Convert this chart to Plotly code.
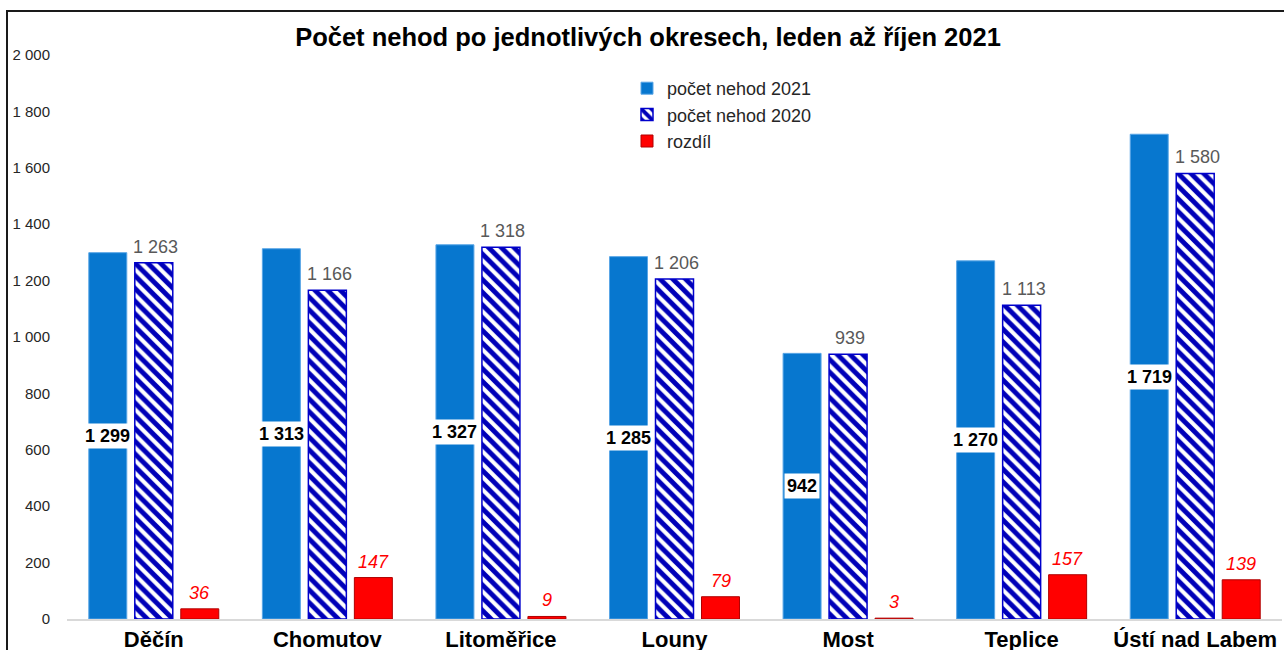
import plotly.graph_objects as go

categories = ["Děčín", "Chomutov", "Litoměřice", "Louny", "Most", "Teplice", "Ústí nad Labem"]
nehody_2021 = [1299, 1313, 1327, 1285, 942, 1270, 1719]
nehody_2020 = [1263, 1166, 1318, 1206, 939, 1113, 1580]
rozdil = [36, 147, 9, 79, 3, 157, 139]
y_ticks = [0, 200, 400, 600, 800, 1000, 1200, 1400, 1600, 1800, 2000]


def fmt(v):
    return f"{v:,}".replace(",", " ")


FONT = "Liberation Sans, Arial, sans-serif"
W, H = 1284, 650
ML, MR, MT, MB = 67, 2, 55, 31
PW = W - ML - MR
PH = H - MT - MB

fig = go.Figure()
fig.add_trace(go.Bar(
    name="počet nehod 2021", x=categories, y=nehody_2021,
    marker=dict(color="#0777CF", line=dict(color="#5AA6E6", width=1)),
))
fig.add_trace(go.Bar(
    name="počet nehod 2020", x=categories, y=nehody_2020,
    marker=dict(color="white", line=dict(color="#0000CC", width=1.5),
                pattern=dict(shape="\\", fgcolor="#0000B8", fgopacity=1, bgcolor="white",
                             size=9, solidity=0.55)),
))
fig.add_trace(go.Bar(
    name="rozdíl", x=categories, y=rozdil,
    marker=dict(color="#FF0000", line=dict(color="#B00000", width=1)),
))

annotations = []
for c, v in zip(categories, nehody_2021):
    annotations.append(dict(
        x=c, y=v / 2, xref="x", yref="y", text=f"<b>{fmt(v)}</b>", showarrow=False,
        xshift=-46, yanchor="middle", bgcolor="white", borderpad=2,
        font=dict(family=FONT, size=18, color="black"),
    ))
for c, v in zip(categories, nehody_2020):
    annotations.append(dict(
        x=c, y=v, xref="x", yref="y", text=fmt(v), showarrow=False,
        xshift=2, yanchor="bottom", yshift=4,
        font=dict(family=FONT, size=18, color="#595959"),
    ))
for c, v in zip(categories, rozdil):
    annotations.append(dict(
        x=c, y=v, xref="x", yref="y", text=f"<i>{fmt(v)}</i>", showarrow=False,
        xshift=46, yanchor="bottom", yshift=4,
        font=dict(family=FONT, size=18, color="#FF0000"),
    ))

fig.update_layout(
    width=W, height=H,
    margin=dict(l=ML, r=MR, t=MT, b=MB, autoexpand=False),
    paper_bgcolor="white", plot_bgcolor="white",
    barmode="group", bargap=0.205, bargroupgap=0.174,
    title=dict(text="<b>Počet nehod po jednotlivých okresech, leden až říjen 2021</b>",
               x=648 / W, xanchor="center", y=1 - 37 / H, yanchor="middle",
               font=dict(family=FONT, size=25.5, color="black")),
    font=dict(family=FONT, color="#262626"),
    legend=dict(x=(627 - ML) / PW, y=(H - MB - 70) / PH, xanchor="left", yanchor="top",
                font=dict(family=FONT, size=18, color="#262626"),
                bgcolor="rgba(0,0,0,0)", itemwidth=30, traceorder="normal"),
    annotations=annotations,
    shapes=[dict(type="rect", xref="paper", yref="paper",
                 x0=(7 - ML) / PW, x1=1.2, y0=-0.3, y1=(H - MB - 11) / PH,
                 line=dict(color="#1a1a1a", width=2), fillcolor="rgba(0,0,0,0)",
                 layer="above")],
)
fig.update_xaxes(
    automargin=False,
    showgrid=False, showline=True, linecolor="#D9D9D9", linewidth=1.5,
    ticks="", tickfont=dict(family=FONT, size=22, color="black"),
    tickprefix="<b>", ticksuffix="</b>",
)
fig.update_yaxes(
    automargin=False,
    range=[0, 2000], showgrid=False, zeroline=False, showline=False,
    tickvals=y_ticks, ticktext=[fmt(v) for v in y_ticks],
    tickfont=dict(family=FONT, size=15, color="#262626"),
    ticklabelstandoff=16,
)

fig.write_html("out.html", config={"displayModeBar": False},
               post_script="document.body.style.margin='0';document.body.style.overflow='hidden';")
